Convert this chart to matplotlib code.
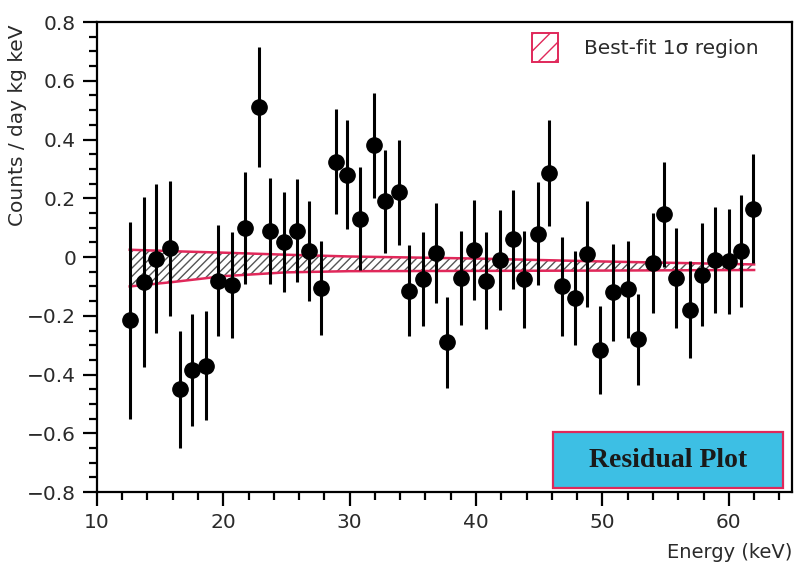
import matplotlib
matplotlib.use("Agg")
import matplotlib.pyplot as plt
from matplotlib.patches import Patch, Rectangle
from matplotlib.ticker import MultipleLocator

# residual data points (energy in keV, residual counts/day/kg/keV, 1 sigma error)
energy = [12.6, 13.7, 14.7, 15.8, 16.6, 17.5, 18.6, 19.6, 20.7, 21.7,
          22.8, 23.7, 24.8, 25.8, 26.8, 27.7, 28.9, 29.8, 30.8, 31.9,
          32.8, 33.9, 34.7, 35.8, 36.8, 37.7, 38.8, 39.8, 40.8, 41.9,
          42.9, 43.8, 44.9, 45.8, 46.8, 47.8, 48.8, 49.8, 50.8, 52.0,
          52.8, 54.0, 54.9, 55.8, 56.9, 57.9, 58.9, 60.0, 61.0, 61.9]
residual = [-0.215, -0.085, -0.005, 0.03, -0.45, -0.385, -0.37, -0.08, -0.095, 0.10,
            0.51, 0.09, 0.05, 0.09, 0.02, -0.105, 0.325, 0.28, 0.13, 0.38,
            0.19, 0.22, -0.115, -0.075, 0.015, -0.29, -0.07, 0.025, -0.08, -0.01,
            0.06, -0.075, 0.08, 0.285, -0.10, -0.14, 0.01, -0.315, -0.12, -0.11,
            -0.28, -0.02, 0.145, -0.07, -0.18, -0.06, -0.01, -0.015, 0.02, 0.165]
error = [0.335, 0.29, 0.255, 0.23, 0.20, 0.19, 0.185, 0.19, 0.18, 0.19,
         0.205, 0.18, 0.17, 0.175, 0.17, 0.16, 0.18, 0.185, 0.175, 0.18,
         0.175, 0.18, 0.155, 0.16, 0.17, 0.155, 0.16, 0.17, 0.165, 0.17,
         0.17, 0.165, 0.175, 0.18, 0.17, 0.16, 0.18, 0.15, 0.165, 0.165,
         0.155, 0.17, 0.18, 0.17, 0.165, 0.175, 0.18, 0.18, 0.19, 0.185]

# best-fit 1 sigma band
band_x = [12.6, 16.0, 20.0, 25.0, 30.0, 40.0, 50.0, 62.0]
band_hi = [0.025, 0.02, 0.015, 0.008, 0.002, -0.005, -0.015, -0.025]
band_lo = [-0.10, -0.085, -0.065, -0.052, -0.048, -0.047, -0.046, -0.044]

y_ticks = [-0.8, -0.6, -0.4, -0.2, 0, 0.2, 0.4, 0.6, 0.8]
y_labels = ['\u22120.8', '\u22120.6', '\u22120.4', '\u22120.2', '0', '0.2', '0.4', '0.6', '0.8']
x_ticks = [10, 20, 30, 40, 50, 60]

RED = '#e0285a'
TXT = '#2a2a2a'

plt.rcParams['font.family'] = 'DejaVu Sans'
plt.rcParams['hatch.linewidth'] = 1.0

fig = plt.figure(figsize=(7.94, 5.65), dpi=100)
ax = fig.add_axes([0.122, 0.129, 0.8755, 0.832])

# shaded band
ax.fill_between(band_x, band_lo, band_hi, facecolor='white', edgecolor='#555555',
                hatch='////', linewidth=0, zorder=1)
ax.plot(band_x, band_hi, color=RED, lw=1.8, zorder=2)
ax.plot(band_x, band_lo, color=RED, lw=1.8, zorder=2)

# data with error bars
ax.errorbar(energy, residual, yerr=error, fmt='o', color='black', ms=11,
            elinewidth=2.2, capsize=0, zorder=3)

ax.set_xlim(10, 65)
ax.set_ylim(-0.8, 0.8)
ax.set_xticks(x_ticks)
ax.set_yticks(y_ticks)
ax.set_yticklabels(y_labels)
ax.xaxis.set_minor_locator(MultipleLocator(2))
ax.yaxis.set_minor_locator(MultipleLocator(0.05))
ax.tick_params(which='major', direction='out', length=10, width=1.6,
               labelsize=14.5, labelcolor=TXT, pad=5)
ax.tick_params(which='minor', direction='out', length=6, width=1.6)
for s in ax.spines.values():
    s.set_linewidth(1.6)

ax.set_ylabel('Counts / day kg keV', fontsize=14.5, color=TXT)
ax.yaxis.set_label_coords(-0.1, 0.78)
ax.set_xlabel('Energy (keV)', fontsize=14, color=TXT, loc='right', labelpad=8)

# legend for the band
handle = Patch(facecolor='white', edgecolor=RED, hatch='//', linewidth=1.4,
               label='Best-fit 1\u03c3 region')
leg = ax.legend(handles=[handle], loc='upper left', bbox_to_anchor=(0.6, 1.016),
                frameon=False, fontsize=14.5, handlelength=1.3, handleheight=1.9,
                handletextpad=1.3)
for t in leg.get_texts():
    t.set_color(TXT)

# "Residual Plot" label box
ax.add_patch(Rectangle((0.656, 0.009), 0.331, 0.119, transform=ax.transAxes,
                       facecolor='#3dbfe4', edgecolor=RED, linewidth=1.6, zorder=4))
ax.text(0.8215, 0.068, 'Residual Plot', transform=ax.transAxes, ha='center',
        va='center', fontsize=20, fontweight='bold', family='Liberation Serif',
        color='#1a1a1a', zorder=5)

fig.savefig('out.png', dpi=100)
